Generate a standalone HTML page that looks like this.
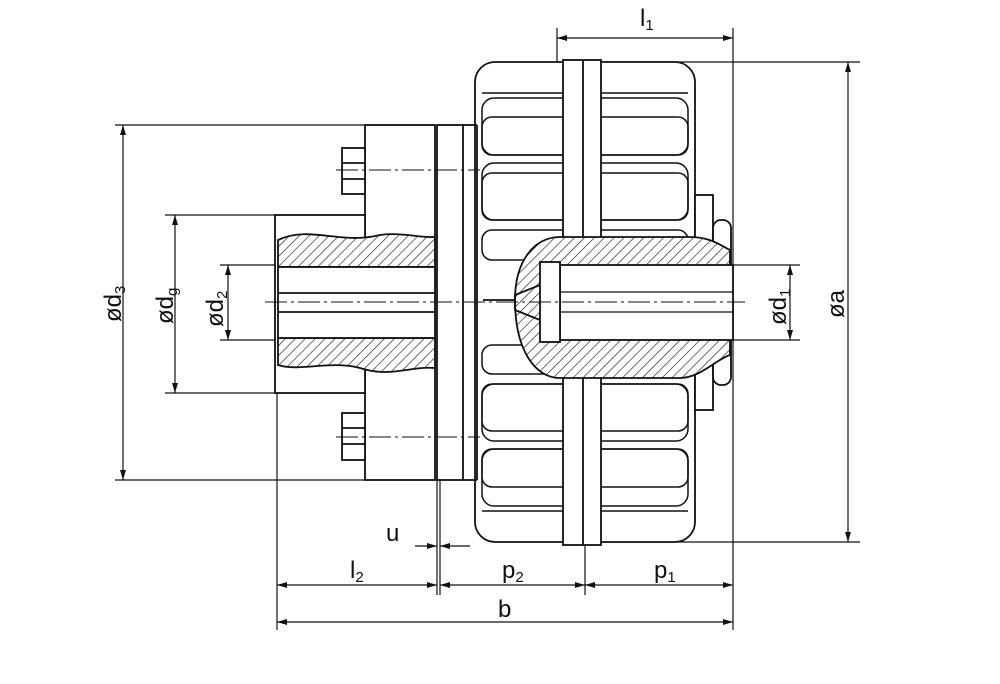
<!DOCTYPE html>
<html><head><meta charset="utf-8"><style>
html,body{margin:0;padding:0;background:#fff;width:1000px;height:684px;overflow:hidden}
svg text{font-family:"Liberation Sans",sans-serif;fill:#111}
</style></head><body>
<svg width="1000" height="684" viewBox="0 0 1000 684" xmlns="http://www.w3.org/2000/svg">
<defs>
<pattern id="h" width="7" height="7" patternUnits="userSpaceOnUse" patternTransform="rotate(45)">
<rect width="7" height="7" fill="#fff"/><line x1="0" y1="0" x2="0" y2="7" stroke="#222" stroke-width="1.3"/>
</pattern>
<marker id="a" viewBox="0 0 10 6" refX="10" refY="3" markerWidth="11" markerHeight="6" orient="auto-start-reverse" markerUnits="userSpaceOnUse"><path d="M0,0 L10,3 L0,6 z" fill="#111"/></marker>
</defs>
<g stroke="#111" fill="none" stroke-width="1.2">
<line x1="600" y1="62" x2="860" y2="62"/><line x1="600" y1="542" x2="860" y2="542"/>
<line x1="115" y1="125" x2="365" y2="125"/><line x1="115" y1="480" x2="365" y2="480"/>
<line x1="165" y1="215" x2="280" y2="215"/><line x1="165" y1="393" x2="280" y2="393"/>
<line x1="220" y1="265" x2="280" y2="265"/><line x1="220" y1="340" x2="280" y2="340"/>
<line x1="733" y1="265" x2="800" y2="265"/><line x1="733" y1="340" x2="800" y2="340"/>
<line x1="277" y1="393" x2="277" y2="630"/><line x1="437" y1="480" x2="437" y2="595"/>
<line x1="440" y1="480" x2="440" y2="595"/>
<line x1="585" y1="545" x2="585" y2="595"/><line x1="733" y1="28" x2="733" y2="630"/>
<line x1="557" y1="28" x2="557" y2="65"/>
<line x1="557" y1="38" x2="733" y2="38" marker-start="url(#a)" marker-end="url(#a)"/>
<line x1="848" y1="62" x2="848" y2="542" marker-start="url(#a)" marker-end="url(#a)"/>
<line x1="790" y1="265" x2="790" y2="340" marker-start="url(#a)" marker-end="url(#a)"/>
<line x1="123" y1="125" x2="123" y2="480" marker-start="url(#a)" marker-end="url(#a)"/>
<line x1="175" y1="215" x2="175" y2="393" marker-start="url(#a)" marker-end="url(#a)"/>
<line x1="228" y1="265" x2="228" y2="340" marker-start="url(#a)" marker-end="url(#a)"/>
<line x1="277" y1="585" x2="437" y2="585" marker-start="url(#a)" marker-end="url(#a)"/>
<line x1="440" y1="585" x2="585" y2="585" marker-start="url(#a)" marker-end="url(#a)"/>
<line x1="585" y1="585" x2="733" y2="585" marker-start="url(#a)" marker-end="url(#a)"/>
<line x1="277" y1="622" x2="733" y2="622" marker-start="url(#a)" marker-end="url(#a)"/>
<line x1="415" y1="546" x2="437" y2="546" marker-end="url(#a)"/>
<line x1="470" y1="546" x2="440" y2="546" marker-end="url(#a)"/>
</g>
<g stroke="#111" fill="#fff" stroke-width="1.8">
<rect x="475" y="62" width="220" height="480" rx="20"/>
<g fill="none" stroke-width="1.5">
<rect x="482" y="98" width="206" height="57" rx="12"/>
<rect x="482" y="117" width="206" height="38" rx="10"/>
<rect x="482" y="163" width="206" height="57" rx="12"/>
<rect x="482" y="173" width="206" height="47" rx="10"/>
<rect x="482" y="230" width="206" height="30" rx="10"/>
<rect x="482" y="345" width="206" height="29" rx="10"/>
<rect x="482" y="384" width="206" height="57" rx="12"/>
<rect x="482" y="384" width="206" height="47" rx="10"/>
<rect x="482" y="449" width="206" height="57" rx="12"/>
<rect x="482" y="449" width="206" height="38" rx="10"/>
<path d="M482 511 H688 M482 93 H688"/>
</g>
<rect x="695" y="195" width="18" height="215"/>
<rect x="713" y="220" width="18" height="165" rx="8"/>
<rect x="365" y="125" width="70" height="355"/>
<rect x="437" y="125" width="26" height="355"/>
<line x1="463" y1="125" x2="477" y2="125"/><line x1="463" y1="480" x2="477" y2="480"/>
<line x1="477" y1="125" x2="477" y2="480"/>
<rect x="342" y="148" width="23" height="46"/><line x1="342" y1="163" x2="365" y2="163"/><line x1="342" y1="179" x2="365" y2="179"/>
<rect x="342" y="413" width="23" height="47"/><line x1="342" y1="428" x2="365" y2="428"/><line x1="342" y1="444" x2="365" y2="444"/>
<rect x="275" y="215" width="90" height="178"/>
<path d="M278 240 C310 225,340 245,380 235 C400 232,420 238,435 237 V267 H278 Z" fill="url(#h)"/>
<path d="M278 338 H435 V368 C410 366,390 378,360 368 C330 360,300 372,278 365 Z" fill="url(#h)"/>
<rect x="278" y="267" width="157" height="71"/>
<line x1="278" y1="293" x2="435" y2="293"/><line x1="278" y1="312" x2="435" y2="312"/>
<rect x="563" y="60" width="38" height="485"/>
<line x1="583" y1="60" x2="583" y2="545"/>
<path d="M560 237 H690 C710 237,720 245,730 250 V355 C715 360,700 378,680 378 H560 C535 378,515 350,515 300 C515 260,535 237,560 237 Z" fill="url(#h)"/>
<rect x="560" y="265" width="173" height="75"/>
<rect x="540" y="262" width="20" height="80"/>
<path d="M540 285 L515 295 V310 L540 320" fill="none"/>
<line x1="483" y1="300" x2="515" y2="300"/>
<line x1="560" y1="292" x2="733" y2="292" stroke-width="1.2"/><line x1="560" y1="312" x2="733" y2="312" stroke-width="1.2"/>
</g>
<g stroke="#111" stroke-width="1" stroke-dasharray="22,4,3,4" fill="none">
<line x1="265" y1="302" x2="745" y2="302"/>
<line x1="336" y1="170" x2="480" y2="170"/>
<line x1="336" y1="437" x2="480" y2="437"/>
</g>
<g font-size="24">
<text x="640" y="26">l<tspan font-size="15" dy="4">1</tspan></text>
<text x="386" y="541">u</text>
<text x="350" y="578">l<tspan font-size="15" dy="4">2</tspan></text>
<text x="502" y="578">p<tspan font-size="15" dy="4">2</tspan></text>
<text x="654" y="578">p<tspan font-size="15" dy="4">1</tspan></text>
<text x="498" y="617">b</text>
<text transform="translate(844,318) rotate(-90)">øa</text>
<text transform="translate(786,325) rotate(-90)">ød<tspan font-size="15" dy="4">1</tspan></text>
<text transform="translate(121,322) rotate(-90)">ød<tspan font-size="15" dy="4">3</tspan></text>
<text transform="translate(173,324) rotate(-90)">ød<tspan font-size="15" dy="4">g</tspan></text>
<text transform="translate(223,327) rotate(-90)">ød<tspan font-size="15" dy="4">2</tspan></text>
</g>
</svg>
</body></html>
